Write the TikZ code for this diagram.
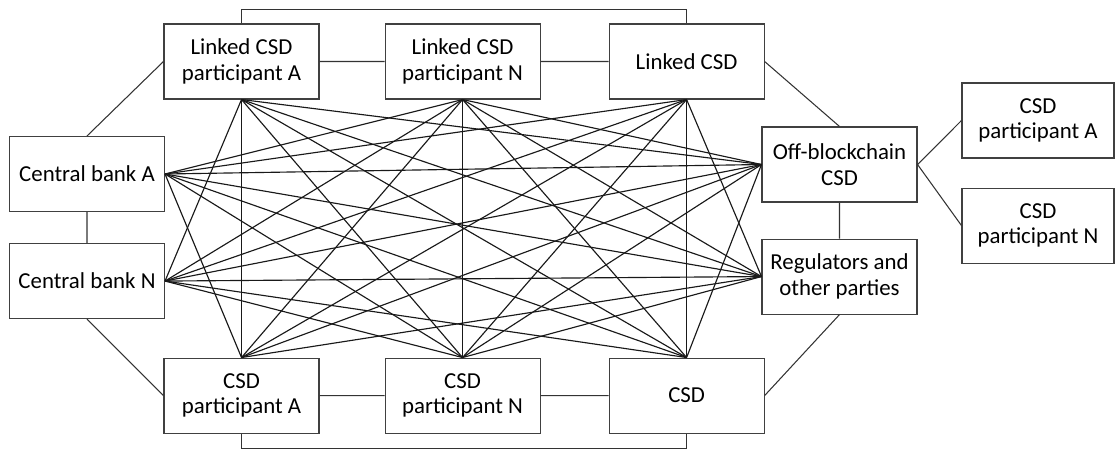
\documentclass[tikz,border=0pt]{standalone}
\usepackage{fontspec}
\setmainfont{Carlito}
\usetikzlibrary{positioning}

\begin{document}
\begin{tikzpicture}[
  party/.style={
    rectangle,
    draw=black!75, line width=0.6pt,
    minimum width=3.1cm,
    minimum height=1.5cm,
    inner sep=2pt,
    text centered,
    align=center,
    font=\fontsize{13}{14.5}\selectfont
  },
  narrow party/.style={party, minimum width=3.04cm},
  myline/.style={draw, line width=0.6pt, black!80},
  meshline/.style={draw, line width=0.65pt, black!90}
  ]
\useasboundingbox (0,0) rectangle (22.32,-9);
% linked side
\node[party] (LA) at (4.83,-1.23) {Linked CSD\\participant A};
\node[party, right=1.3cm of LA] (LN) {Linked CSD\\participant N};
\node[party, right=1.36cm of LN] (LC) {Linked CSD};
% own side
\node[party, below=5.16cm of LA] (PA) {CSD\\participant A};
\node[party, right=1.3cm of PA] (PN) {CSD\\participant N};
\node[party, right=1.36cm of PN] (CSD) {CSD};
% central banks
\node[party] (CBA) at (1.74,-3.48) {Central bank A};
\node[party, below=0.62cm of CBA] (CBN) {Central bank N};
% off chain
\node[party] (OB) at (16.79,-3.29) {Off-blockchain\\CSD};
\node[party, below=0.72cm of OB] (RG) {Regulators and\\other parties};
\node[narrow party] (RA) at (20.76,-2.41) {CSD\\participant A};
\node[narrow party, below=0.58cm of RA] (RN) {CSD\\participant N};

% frame connectors
\path[myline] (LA) -- (LN) -- (LC)
              (PA) -- (PN) -- (CSD)
              (CBA) -- (CBN)
              (OB) -- (RG)
              (CBA.north) -- (LA.west)
              (CBN.south) -- (PA.west)
              (LC.east) -- (OB.north)
              (RG.south) -- (CSD.east)
              (OB.east) -- (RA.west)
              (OB.east) -- (RN.west);
\draw[myline] (LA.north) -- ++(0,0.28) -| (LC.north);
\draw[myline] (PA.south) -- ++(0,-0.3) -| (CSD.south);

% mesh
\foreach \a in {LA,LN,LC}
  \foreach \b in {PA,PN,CSD}
    \draw[meshline] (\a.south) -- (\b.north);
\foreach \a/\b in {LN/CBA,LC/CBA,LA/CBN,LN/CBN,LC/CBN}
  \draw[meshline] (\a.south) -- (\b.east);
\foreach \a/\b in {LA/OB,LN/OB,LA/RG,LN/RG,LC/RG}
  \draw[meshline] (\a.south) -- (\b.west);
\foreach \a/\b in {PA/CBA,PN/CBA,CSD/CBA,PN/CBN,CSD/CBN}
  \draw[meshline] (\a.north) -- (\b.east);
\foreach \a/\b in {PA/OB,PN/OB,CSD/OB,PA/RG,PN/RG}
  \draw[meshline] (\a.north) -- (\b.west);
\foreach \a/\b in {CBA/OB,CBA/RG,CBN/OB,CBN/RG}
  \draw[meshline] (\a.east) -- (\b.west);
\end{tikzpicture}
\end{document}
